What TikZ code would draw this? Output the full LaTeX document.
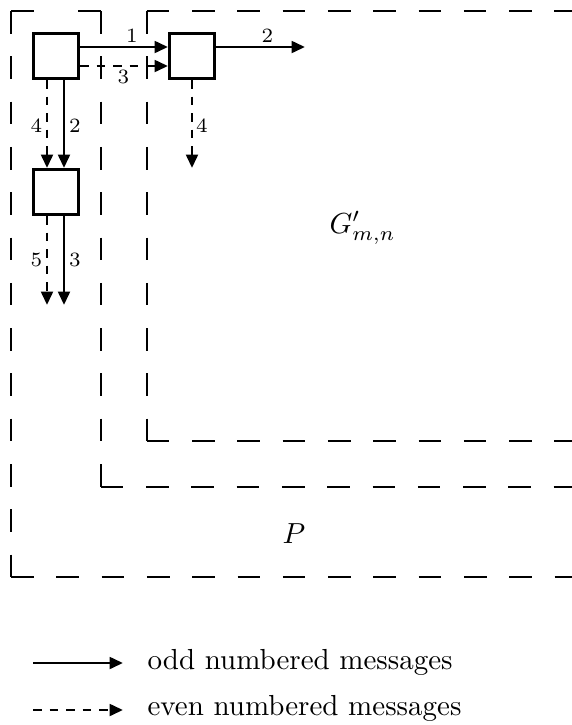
\documentclass[tikz,border=0pt]{standalone}
\usetikzlibrary{arrows.meta,calc}
\tikzset{
 region/.style={line width=0.75pt, dash pattern=on 7.81pt off 7.81pt},
 msgbox/.style={draw, line width=1.15pt, minimum size=15.4pt, inner sep=0pt},
 oddmsg/.style={line width=1pt, -{Triangle[length=4.6pt,width=4pt]}},
 evenmsg/.style={oddmsg, dash pattern=on 3pt off 2.7pt},
 lbl/.style={font=\scriptsize, inner sep=0pt},
 txt/.style={anchor=base west, inner sep=0pt},
}
\begin{document}
\begin{tikzpicture}[x=0.3448pt,y=-0.3448pt]
\useasboundingbox (0,0) rectangle (572,725);
% region P
\coordinate (pa) at (11,11);
\coordinate (pb) at (100.7,11);
\coordinate (pm) at (55.85,11);
\coordinate (pc) at (11,577);
\coordinate (pd) at (100.7,486.7);
\coordinate (pe) at (580,577);
\coordinate (pf) at (580,486.7);
\draw[region] (pa) -- (pc);
\draw[region] (pc) -- (pe);
\draw[region] (pa) -- (pm);
\draw[region] (pb) -- (pm);
\draw[region] (pb) -- (pd);
\draw[region] (pd) -- (pf);
% region G'
\coordinate (ga) at (146.7,11);
\coordinate (gb) at (146.7,440.7);
\coordinate (gc) at (580,11);
\coordinate (gd) at (580,440.7);
\draw[region] (ga) -- (gc);
\draw[region] (ga) -- (gb);
\draw[region] (gb) -- (gd);
% boxes
\node[msgbox] (b1) at (56,56) {};
\node[msgbox] (b2) at (192,56) {};
\node[msgbox] (b3) at (56,192) {};
\coordinate (e1) at (305,47);
\coordinate (e2) at (192,168);
\coordinate (e3) at (47,305);
\coordinate (e4) at (64,305);
\draw[oddmsg] ($(b1.east)+(0,-9)$) -- ($(b2.west)+(0,-9)$);
\draw[evenmsg] ($(b1.east)+(0,10)$) -- ($(b2.west)+(0,10)$);
\draw[oddmsg] ($(b2.east)+(0,-9)$) -- (e1);
\draw[evenmsg] (b2.south) -- (e2);
\draw[evenmsg] ($(b1.south)+(-9,0)$) -- ($(b3.north)+(-9,0)$);
\draw[oddmsg] ($(b1.south)+(8,0)$) -- ($(b3.north)+(8,0)$);
\draw[evenmsg] ($(b3.south)+(-9,0)$) -- (e3);
\draw[oddmsg] ($(b3.south)+(8,0)$) -- (e4);
% labels
\node[lbl] (l1) at (132,35.5) {1};
\node[lbl] (l3a) at (123.5,77) {3};
\node[lbl] (l2a) at (267.5,35.5) {2};
\node[lbl] (l4a) at (202,125.5) {4};
\node[lbl] (l4b) at (36.5,125.5) {4};
\node[lbl] (l2b) at (75,125.5) {2};
\node[lbl] (l5) at (36.5,260) {5};
\node[lbl] (l3b) at (75,260) {3};
\node[txt] (G) at (329,233) {$G'_{m,n}$};
\node[txt] (P) at (282,543) {$P$};
% legend
\coordinate (s1) at (33,663);
\coordinate (t1) at (123,663);
\coordinate (s2) at (33,710);
\coordinate (t2) at (123,710);
\draw[oddmsg] (s1) -- (t1);
\draw[evenmsg] (s2) -- (t2);
\node[txt] (odd) at (147,669) {odd numbered messages};
\node[txt] (even) at (147,715) {even numbered messages};
\end{tikzpicture}
\end{document}
